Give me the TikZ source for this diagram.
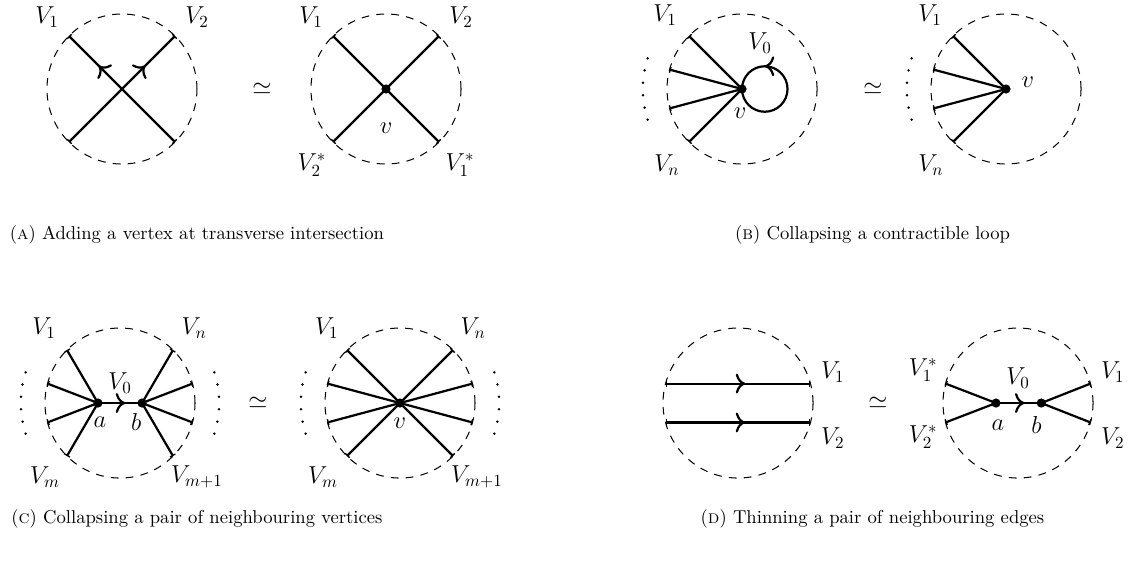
\documentclass[tikz,border=0pt]{standalone}
\usepackage{amsmath,amssymb}
\usepackage{tikz}
\usetikzlibrary{positioning,arrows.meta,calc,decorations.markings}
\tikzset{
  disc/.style={draw, dash pattern=on 4.6pt off 4.2pt, line width=0.6pt},
  vtx/.style={circle, fill, inner sep=0pt, minimum size=5.4pt},
  strand/.style={line width=1.3pt, -{Bar[width=3.6pt, line width=0.8pt]}},
  chord/.style={line width=1.3pt, {Bar[width=3.6pt, line width=0.8pt]}-{Bar[width=3.6pt, line width=0.8pt]}},
  link/.style={line width=1.3pt},
  flowmark/.style={postaction={decorate}, decoration={markings, mark=at position #1 with {\arrow{To[scale=1.25]}}}},
  lbl/.style={font=\Large, inner sep=0pt},
  equiv/.style={font=\Large, inner sep=0pt},
  capt/.style={anchor=base, inner sep=0pt, font=\fontsize{10.95}{13.6}\selectfont}
}
\begin{document}
\begin{tikzpicture}
  \useasboundingbox (0,0) rectangle (23.409,11.674);

  % (a) transverse intersection
  \coordinate (cAl) at (2.52,9.835);
  \coordinate (cAr) at (7.975,9.835);
  \foreach \ang in {45,135,225,315} {
    \coordinate (pAl\ang) at ($(cAl)+(\ang:1.55)$);
    \coordinate (pAr\ang) at ($(cAr)+(\ang:1.55)$);
  }
  \draw[disc] (cAl) circle (1.55);
  \draw[chord, flowmark=0.72] (pAl315) -- (pAl135);
  \draw[chord, flowmark=0.72] (pAl225) -- (pAl45);
  \node[lbl] (lAl1) at ($(cAl)+(-1.55,1.49)$) {$V_1$};
  \node[lbl] (lAl2) at ($(cAl)+(1.55,1.49)$) {$V_2$};
  \node[equiv] (eqA) at (5.413,9.835) {$\simeq$};
  \draw[disc] (cAr) circle (1.55);
  \node[vtx] (vA) at (cAr) {};
  \foreach \ang in {45,135,225,315} \draw[strand] (vA.center) -- (pAr\ang);
  \node[lbl] (lAr1) at ($(cAr)+(-1.55,1.49)$) {$V_1$};
  \node[lbl] (lAr2) at ($(cAr)+(1.55,1.49)$) {$V_2$};
  \node[lbl] (lAr3) at ($(cAr)+(-1.53,-1.57)$) {$V_2^*$};
  \node[lbl] (lAr4) at ($(cAr)+(1.53,-1.57)$) {$V_1^*$};
  \node[lbl] (lAv) at ($(cAr)+(0,-0.8)$) {$v$};
  \node[capt] (capA) at (4.07,6.736) {(\textsc{a}) Adding a vertex at transverse intersection};

  % (b) contractible loop
  \coordinate (cBl) at (15.331,9.835);
  \coordinate (cBr) at (20.785,9.835);
  \foreach \ang in {135,165,195,225} {
    \coordinate (pBl\ang) at ($(cBl)+(\ang:1.55)$);
    \coordinate (pBr\ang) at ($(cBr)+(\ang:1.55)$);
  }
  \draw[disc] (cBl) circle (1.55);
  \node[vtx] (vB) at (cBl) {};
  \foreach \ang in {135,165,195,225} \draw[strand] (vB.center) -- (pBl\ang);
  \draw[link, flowmark=0.75] (vB.center) arc[start angle=180, end angle=540, radius=0.47];
  \foreach \t in {0,...,5} \fill ($(cBl)+(162+7.2*\t:2.05)$) circle (0.8pt);
  \node[lbl] (lBl1) at ($(cBl)+(-1.59,1.53)$) {$V_1$};
  \node[lbl] (lBl2) at ($(cBl)+(-1.55,-1.57)$) {$V_n$};
  \node[lbl] (lBl0) at ($(cBl)+(0.37,0.95)$) {$V_0$};
  \node[lbl] (lBv) at ($(cBl)+(-0.04,-0.5)$) {$v$};
  \node[equiv] (eqB) at (18.037,9.835) {$\simeq$};
  \draw[disc] (cBr) circle (1.55);
  \node[vtx] (vB2) at (cBr) {};
  \foreach \ang in {135,165,195,225} \draw[strand] (vB2.center) -- (pBr\ang);
  \foreach \t in {0,...,5} \fill ($(cBr)+(162+7.2*\t:2.05)$) circle (0.8pt);
  \node[lbl] (lBr1) at ($(cBr)+(-1.57,1.53)$) {$V_1$};
  \node[lbl] (lBr2) at ($(cBr)+(-1.55,-1.57)$) {$V_n$};
  \node[lbl] (lBrv) at ($(cBr)+(0.45,0.14)$) {$v$};
  \node[capt] (capB) at (18.027,6.736) {(\textsc{b}) Collapsing a contractible loop};

  % (c) neighbouring vertices
  \coordinate (cCl) at (2.479,3.347);
  \coordinate (cCr) at (8.264,3.347);
  \foreach \ang in {-45,-15,15,45,135,165,195,225} {
    \coordinate (pCl\ang) at ($(cCl)+(\ang:1.55)$);
    \coordinate (pCr\ang) at ($(cCr)+(\ang:1.55)$);
  }
  \draw[disc] (cCl) circle (1.55);
  \node[vtx] (aC) at ($(cCl)+(-0.455,0)$) {};
  \node[vtx] (bC) at ($(cCl)+(0.455,0)$) {};
  \foreach \ang in {135,165,195,225} \draw[strand] (aC.center) -- (pCl\ang);
  \foreach \ang in {-45,-15,15,45} \draw[strand] (bC.center) -- (pCl\ang);
  \draw[link, flowmark=0.62] (aC.center) -- (bC.center);
  \foreach \t in {0,...,5} {
    \fill ($(cCl)+(162+7.2*\t:2.05)$) circle (0.8pt);
    \fill ($(cCl)+(-18+7.2*\t:2.05)$) circle (0.8pt);
  }
  \node[lbl] (lCl1) at ($(cCl)+(-1.57,1.55)$) {$V_1$};
  \node[lbl] (lCl2) at ($(cCl)+(-1.55,-1.53)$) {$V_m$};
  \node[lbl] (lCl3) at ($(cCl)+(1.53,1.55)$) {$V_n$};
  \node[lbl] (lCl4) at ($(cCl)+(1.59,-1.53)$) {$V_{m+1}$};
  \node[lbl] (lCl0) at ($(cCl)+(0,0.41)$) {$V_0$};
  \node[lbl] (lCa) at ($(aC)+(0.04,-0.39)$) {$a$};
  \node[lbl] (lCb) at ($(bC)+(-0.12,-0.39)$) {$b$};
  \node[equiv] (eqC) at (5.331,3.347) {$\simeq$};
  \draw[disc] (cCr) circle (1.55);
  \node[vtx] (vC) at (cCr) {};
  \foreach \ang in {-45,-15,15,45,135,165,195,225} \draw[strand] (vC.center) -- (pCr\ang);
  \foreach \t in {0,...,5} {
    \fill ($(cCr)+(162+7.2*\t:2.05)$) circle (0.8pt);
    \fill ($(cCr)+(-18+7.2*\t:2.05)$) circle (0.8pt);
  }
  \node[lbl] (lCr1) at ($(cCr)+(-1.51,1.55)$) {$V_1$};
  \node[lbl] (lCr2) at ($(cCr)+(-1.59,-1.53)$) {$V_m$};
  \node[lbl] (lCr3) at ($(cCr)+(1.51,1.55)$) {$V_n$};
  \node[lbl] (lCr4) at ($(cCr)+(1.59,-1.53)$) {$V_{m+1}$};
  \node[lbl] (lCv) at ($(cCr)+(0,-0.41)$) {$v$};
  \node[capt] (capC) at (4.07,0.868) {(\textsc{c}) Collapsing a pair of neighbouring vertices};

  % (d) neighbouring edges
  \coordinate (cDl) at (15.248,3.347);
  \coordinate (cDr) at (21.033,3.347);
  \foreach \ang in {-15,15,165,195} {
    \coordinate (pDl\ang) at ($(cDl)+(\ang:1.55)$);
    \coordinate (pDr\ang) at ($(cDr)+(\ang:1.55)$);
  }
  \draw[disc] (cDl) circle (1.55);
  \draw[chord, flowmark=0.55] (pDl165) -- (pDl15);
  \draw[chord, flowmark=0.55] (pDl195) -- (pDl-15);
  \node[lbl] (lDl1) at ($(cDl)+(1.96,0.64)$) {$V_1$};
  \node[lbl] (lDl2) at ($(cDl)+(1.96,-0.72)$) {$V_2$};
  \node[equiv] (eqD) at (18.140,3.347) {$\simeq$};
  \draw[disc] (cDr) circle (1.55);
  \node[vtx] (aD) at ($(cDr)+(-0.455,0)$) {};
  \node[vtx] (bD) at ($(cDr)+(0.48,0)$) {};
  \draw[strand] (aD.center) -- (pDr165);
  \draw[strand] (aD.center) -- (pDr195);
  \draw[strand] (bD.center) -- (pDr15);
  \draw[strand] (bD.center) -- (pDr-15);
  \draw[link, flowmark=0.63] (aD.center) -- (bD.center);
  \node[lbl] (lDr0) at ($(cDr)+(0,0.52)$) {$V_0$};
  \node[lbl] (lDa) at ($(aD)+(0.04,-0.45)$) {$a$};
  \node[lbl] (lDb) at ($(bD)+(-0.1,-0.45)$) {$b$};
  \node[lbl] (lDr1) at ($(cDr)+(-1.96,0.68)$) {$V_1^*$};
  \node[lbl] (lDr2) at ($(cDr)+(-1.96,-0.70)$) {$V_2^*$};
  \node[lbl] (lDr3) at ($(cDr)+(1.96,0.64)$) {$V_1$};
  \node[lbl] (lDr4) at ($(cDr)+(1.96,-0.72)$) {$V_2$};
  \node[capt] (capD) at (18.027,0.868) {(\textsc{d}) Thinning a pair of neighbouring edges};
\end{tikzpicture}
\end{document}
